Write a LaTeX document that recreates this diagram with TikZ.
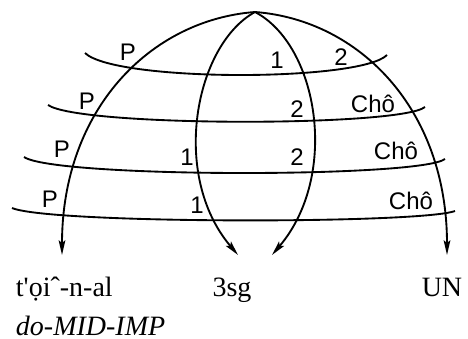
\documentclass[tikz,border=0pt]{standalone}
\usepackage{fontspec}
\setmainfont{Liberation Serif}[Ligatures=TeXOff]
\newfontfamily\labfont{Liberation Sans}
\usetikzlibrary{arrows.meta}
\begin{document}
\begin{tikzpicture}[x=0.75pt, y=-0.75pt, line width=1.4pt,
    >={Stealth[length=11pt, width=5pt, inset=2pt]},
    lab/.style={font=\labfont\fontsize{18}{18}\selectfont, inner sep=0pt},
    gloss/.style={font=\fontsize{21}{21}\selectfont, inner sep=0pt}]
\useasboundingbox (0,0) rectangle (468,339);
% apex and arrow tips
\coordinate (top) at (255,12);
\coordinate (tipP) at (62,255);
\coordinate (tipA) at (238,255);
\coordinate (tipB) at (272,255);
\coordinate (tipC) at (447,255);
% the four arcs
\draw[->] (top) .. controls (150,20) and (62,110) .. (tipP);
\draw[->] (top) .. controls (195,45) and (170,175) .. (tipA);
\draw[->] (top) .. controls (318,45) and (340,175) .. (tipB);
\draw[->] (top) .. controls (360,20) and (447,110) .. (tipC);
% the rows
\foreach \r/\xl/\yl/\xr/\yr/\cl/\cy/\cr in {1/85/53/387/55/115/82/360,
    2/48/105/425/107/80/127/400, 3/24/157/445/159/55/178/420,
    4/12/208/455/211/50/224/420}
{
    \coordinate (l\r) at (\xl,\yl);
    \coordinate (r\r) at (\xr,\yr);
    \draw (l\r) .. controls (\cl,\cy) and (\cr,\cy) .. (r\r);
}
% labels
\foreach \x/\y/\t in {128/52/P, 87/101/P, 62/149/P, 50/199/P,
    277/60/1, 341/57/2, 297/109/2, 187/157/1, 297/157/2, 197/205/1,
    373/104/Chô, 396/151/Chô, 411/201/Chô}
{
    \node[lab] at (\x,\y) {\t};
}
% glosses
\node[gloss, anchor=base west] (verb) at (15,296) {t'ọiˆ-n-al};
\node[gloss, anchor=base west] (gl) at (15,335) {\itshape do-MID-IMP};
\node[gloss, anchor=base] (sg) at (232,296) {3sg};
\node[gloss, anchor=base] (un) at (442,296) {UN};
\end{tikzpicture}
\end{document}
